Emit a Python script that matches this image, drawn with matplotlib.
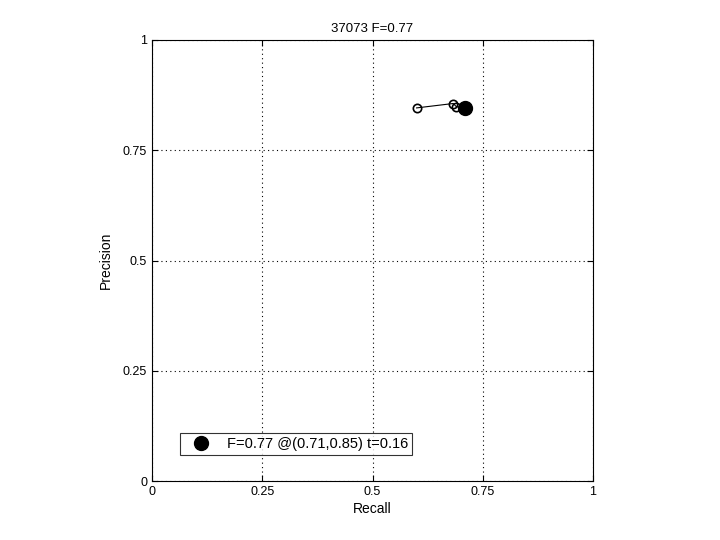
import matplotlib
matplotlib.use("Agg")
import matplotlib.pyplot as plt

recall = [0.60, 0.683, 0.69, 0.71]
precision = [0.846, 0.856, 0.849, 0.846]
best_r, best_p = 0.71, 0.846
title = "37073 F=0.77"
legend_label = "F=0.77 @(0.71,0.85) t=0.16"
ticks = [0, 0.25, 0.5, 0.75, 1]
tick_labels = ["0", "0.25", "0.5", "0.75", "1"]

plt.rcParams['font.family'] = ['Liberation Sans', 'DejaVu Sans']
fig = plt.figure(figsize=(7.2, 5.4), dpi=100)
ax = fig.add_axes([152/720, 59/540, 441/720, 441/540])
ax.plot(recall, precision, '-', color='black', lw=0.8)
ax.plot(recall[:-1], precision[:-1], 'o', mfc='none', mec='black', ms=6, mew=1.2)
ax.plot([best_r], [best_p], 'o', color='black', ms=10, label=legend_label)
ax.set_xlim(0, 1)
ax.set_ylim(0, 1)
ax.set_xticks(ticks)
ax.set_xticklabels(tick_labels)
ax.set_yticks(ticks)
ax.set_yticklabels(tick_labels)
ax.tick_params(direction='in', labelsize=9, length=4, top=True, right=True)
ax.grid(True, linestyle=(0, (1, 3)), color='black', lw=0.8)
ax.set_xlabel("Recall", fontsize=10, labelpad=3)
ax.set_ylabel("Precision", fontsize=10, labelpad=7)
ax.set_title(title, fontsize=9.5, pad=6)
leg = ax.legend(loc='lower left', bbox_to_anchor=(0.063, 0.06), fontsize=10.5,
                frameon=True, fancybox=False, edgecolor='black', handlelength=2.4,
                borderpad=0.25, handletextpad=0.6, borderaxespad=0)
leg.get_frame().set_linewidth(0.8)
fig.savefig("out.png", dpi=100)
